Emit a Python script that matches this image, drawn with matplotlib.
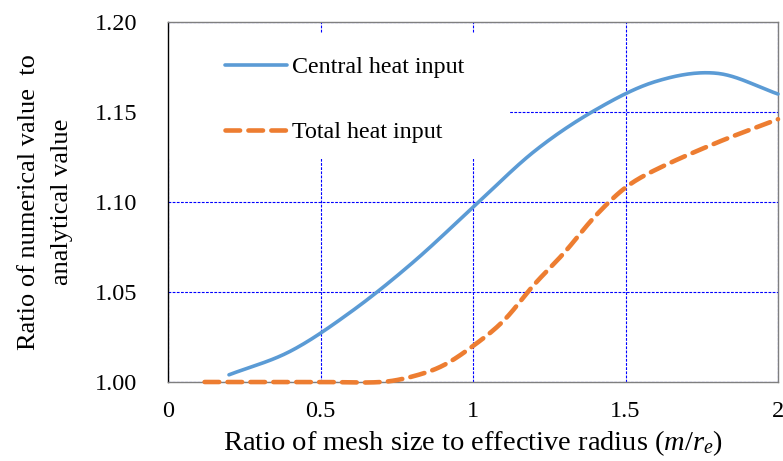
import numpy as np
import matplotlib
matplotlib.use("Agg")
import matplotlib.pyplot as plt
from matplotlib.patches import Rectangle

plt.rcParams['font.family'] = ['Liberation Serif', 'DejaVu Serif']
plt.rcParams['mathtext.fontset'] = 'custom'
plt.rcParams['mathtext.it'] = 'Liberation Serif:italic'
plt.rcParams['mathtext.rm'] = 'Liberation Serif'
plt.rcParams['lines.scale_dashes'] = False

# Data
central_x = [0.2, 0.4, 0.6, 0.8, 1.0, 1.2, 1.4, 1.6, 1.8, 2.0]
central_y = [1.004, 1.017, 1.039, 1.066, 1.097, 1.128, 1.151, 1.167, 1.1715, 1.160]

total_x = [0.12, 0.3, 0.5, 0.7, 0.8, 0.9, 1.0, 1.1, 1.2, 1.3, 1.4, 1.5, 1.6, 1.8, 2.0]
total_y = [1.000, 1.000, 1.000, 1.000, 1.003, 1.009, 1.020, 1.034, 1.054, 1.072,
           1.092, 1.108, 1.118, 1.133, 1.146]

x_ticks = [0, 0.5, 1, 1.5, 2]
x_tick_labels = ['0', '0.5', '1', '1.5', '2']
y_ticks = [1.00, 1.05, 1.10, 1.15, 1.20]
y_tick_labels = ['1.00', '1.05', '1.10', '1.15', '1.20']

series_names = ['Central heat input', 'Total heat input']


def smooth(xs, ys, n=40):
    """Cubic Hermite smoothing with finite-difference slopes."""
    xs = np.asarray(xs, float)
    ys = np.asarray(ys, float)
    m = np.empty_like(ys)
    m[1:-1] = (ys[2:] - ys[:-2]) / (xs[2:] - xs[:-2])
    m[0] = (ys[1] - ys[0]) / (xs[1] - xs[0])
    m[-1] = (ys[-1] - ys[-2]) / (xs[-1] - xs[-2])
    outx, outy = [], []
    t = np.linspace(0, 1, n, endpoint=False)
    for i in range(len(xs) - 1):
        h = xs[i + 1] - xs[i]
        h00 = 2 * t ** 3 - 3 * t ** 2 + 1
        h10 = t ** 3 - 2 * t ** 2 + t
        h01 = -2 * t ** 3 + 3 * t ** 2
        h11 = t ** 3 - t ** 2
        outx.extend(xs[i] + t * h)
        outy.extend(h00 * ys[i] + h10 * h * m[i] + h01 * ys[i + 1] + h11 * h * m[i + 1])
    outx.append(xs[-1])
    outy.append(ys[-1])
    return np.array(outx), np.array(outy)


fig = plt.figure(figsize=(7.83, 4.61), dpi=100)
ax = fig.add_axes([168 / 783, 1 - 382 / 461, 610 / 783, 360 / 461])

ax.set_xlim(0, 2)
ax.set_ylim(1.0, 1.2)
ax.set_xticks(x_ticks)
ax.set_xticklabels(x_tick_labels)
ax.set_yticks(y_ticks)
ax.set_yticklabels(y_tick_labels)
ax.tick_params(axis='both', length=0, labelsize=17.5)
ax.tick_params(axis='y', pad=22)
ax.tick_params(axis='x', pad=14)

ax.grid(True, color='#0000ff', linestyle=(0, (2, 1)), linewidth=0.8, zorder=0)
ax.set_axisbelow(True)

for side in ['top', 'right', 'bottom']:
    ax.spines[side].set_color('#7f7f7f')
    ax.spines[side].set_linewidth(1.0)
ax.spines['left'].set_color('black')
ax.spines['left'].set_linewidth(1.0)

cx, cy = smooth(central_x, central_y)
tx, ty = smooth(total_x, total_y)
l1, = ax.plot(cx, cy, color='#5B9BD5', linewidth=2.6, solid_capstyle='round',
              label=series_names[0], zorder=3, clip_on=False)
l2, = ax.plot(tx, ty, color='#ED7D31', linewidth=3.3, linestyle=(0, (10.5, 6.0)),
              dash_capstyle='round', label=series_names[1], zorder=3, clip_on=False)

# white legend backdrop covering grid
ax.add_patch(Rectangle((0, 0.619), 0.561, 0.35, transform=ax.transAxes,
                       facecolor='white', edgecolor='none', zorder=1))

leg = ax.legend(handles=[l1, l2], loc='upper left',
                bbox_to_anchor=(0.093, 0.905), frameon=False,
                fontsize=17.3, handlelength=2.6, handletextpad=0.2,
                labelspacing=1.8, borderaxespad=0, borderpad=0)

ax.set_xlabel(r'Ratio of mesh size to effective radius ($m$/$r_e$)', fontsize=20.5,
              labelpad=4)
ax.set_ylabel('Ratio of numerical value  to\nanalytical value', fontsize=19,
              labelpad=16, linespacing=1.6)

fig.savefig('out.png', dpi=100)
